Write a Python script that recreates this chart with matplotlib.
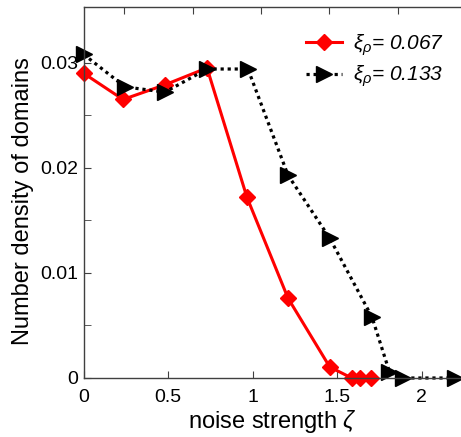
import matplotlib
matplotlib.use('Agg')
import matplotlib.pyplot as plt

# noise strength values and domain densities
zeta_067 = [0.0, 0.234, 0.482, 0.731, 0.967, 1.21, 1.457, 1.587, 1.636, 1.70]
dens_067 = [0.0290, 0.0265, 0.0279, 0.0295, 0.0172, 0.0076, 0.00105, 0.0, 0.0, 0.0]

zeta_133 = [0.0, 0.246, 0.482, 0.731, 0.973, 1.21, 1.457, 1.707, 1.81, 1.89, 2.2]
dens_133 = [0.0308, 0.0277, 0.0272, 0.0294, 0.0294, 0.0193, 0.0133, 0.0058, 0.0006, 0.0, 0.0]

labels = [r'$\xi_\rho$= 0.067', r'$\xi_\rho$= 0.133']
x_ticks = [0, 0.5, 1, 1.5, 2]
x_ticklabels = ['0', '0.5', '1', '1.5', '2']
y_ticks = [0, 0.01, 0.02, 0.03]
y_ticklabels = ['0', '0.01', '0.02', '0.03']
y_minor = [0.005, 0.015, 0.025]
top_ticks = [0.240, 0.648, 1.050, 1.453, 1.861]

plt.rcParams['font.family'] = ['Liberation Sans', 'DejaVu Sans']
plt.rcParams['mathtext.fontset'] = 'custom'
plt.rcParams['mathtext.it'] = 'Liberation Sans:italic'
plt.rcParams['mathtext.rm'] = 'Liberation Sans:italic'

fig = plt.figure(figsize=(4.61, 4.37), dpi=100)
ax = fig.add_axes([83.5 / 461, 59 / 437, (470 - 83.5) / 461, 371 / 437])

ax.plot(zeta_067, dens_067, color='red', lw=2.2, marker='D', ms=8.5,
        mec='red', mfc='red', clip_on=False, label=labels[0])
ax.plot(zeta_133, dens_133, color='black', lw=2.3, ls=(0, (1, 1.2)),
        marker='>', ms=11.5, mec='black', mfc='black', clip_on=False,
        label=labels[1])

ax.set_xlim(0, (470 - 83.5) / 169)
ax.set_ylim(0, 0.0353)

ax.set_xticks(x_ticks)
ax.set_xticklabels(x_ticklabels)
ax.set_yticks(y_ticks)
ax.set_yticklabels(y_ticklabels)
ax.set_yticks(y_minor, minor=True)
ax.tick_params(axis='both', which='both', direction='in', labelsize=14,
               color='#404040', length=5, top=False, right=False)
ax.tick_params(axis='x', pad=8)
ax.tick_params(axis='y', pad=4)

sec = ax.secondary_xaxis('top')
sec.set_xticks(top_ticks)
sec.set_xticklabels([])
sec.tick_params(direction='in', length=5, color='#404040')
sec.spines['top'].set_visible(False)

for s in ['left', 'bottom', 'top']:
    ax.spines[s].set_color('#404040')
    ax.spines[s].set_linewidth(1.0)
ax.spines['right'].set_visible(False)

ax.set_xlabel(r'noise strength $\zeta$', fontsize=17)
ax.set_ylabel('Number density of domains', fontsize=17)
ax.xaxis.set_label_coords(0.49, -0.08)
ax.yaxis.set_label_coords(-0.127, 0.477)

leg = ax.legend(loc='upper left', bbox_to_anchor=(0.555, 0.955), frameon=False,
                fontsize=15, handlelength=1.7, handletextpad=0.55,
                labelspacing=0.3, borderaxespad=0)
for t in leg.get_texts():
    t.set_style('italic')

fig.savefig('out.png', dpi=100)
